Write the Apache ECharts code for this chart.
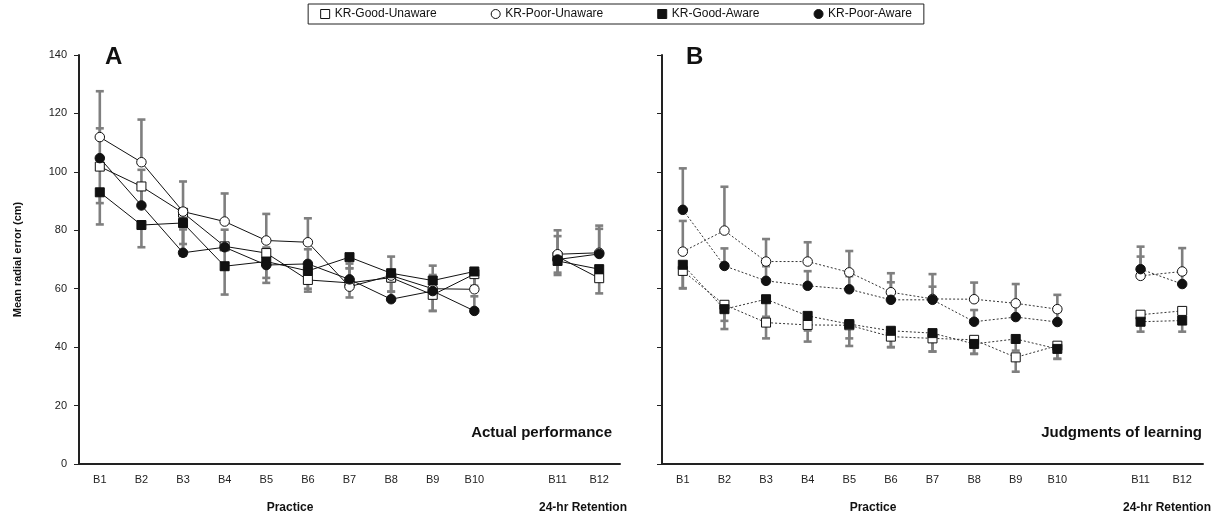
<!DOCTYPE html>
<html>
<head>
<meta charset="utf-8">
<script src="https://cdn.jsdelivr.net/npm/echarts@6/dist/echarts.min.js"></script>
<style>html,body{margin:0;padding:0;background:#fff;}#c{width:1232px;height:520px;}</style>
</head>
<body>
<div id="c"></div>
<script>
// ---------- data ----------
const blocks = ['B1','B2','B3','B4','B5','B6','B7','B8','B9','B10','B11','B12'];
const seriesNames = ['KR-Good-Unaware','KR-Poor-Unaware','KR-Good-Aware','KR-Poor-Aware'];
const yTicks = [0,20,40,60,80,100,120,140];

// Panel A: actual performance (mean radial error, cm)
const goodUnawareA = [101.8, 95.0, 86.0, 74.5, 72.2, 63.0, 62.0, 63.8, 57.9, 65.0, 71.0, 63.6];
const poorUnawareA = [111.9, 103.3, 86.4, 83.0, 76.5, 75.9, 60.7, 64.5, 60.0, 59.8, 71.8, 72.3];
const goodAwareA   = [93.0, 81.8, 82.5, 67.7, 69.3, 66.1, 70.8, 65.3, 62.8, 65.9, 69.5, 66.7];
const poorAwareA   = [104.7, 88.5, 72.3, 74.2, 68.1, 68.5, 63.2, 56.4, 59.2, 52.4, 70.0, 71.9];
// error bar lengths (Good groups drawn downward, Poor groups upward)
const goodUnawareAErr = [12.5, 6.0, 10.7, 8.0, 8.5, 4.0, 5.0, 4.8, 5.5, 4.0, 5.5, 5.2];
const poorUnawareAErr = [15.7, 14.6, 10.3, 9.6, 9.1, 8.2, 6.3, 6.5, 7.9, 5.0, 8.2, 9.3];
const goodAwareAErr   = [11.0, 7.6, 11.2, 9.7, 7.3, 6.1, 3.8, 6.3, 10.4, 6.0, 4.8, 4.0];
const poorAwareAErr   = [10.2, 12.2, 8.0, 6.0, 6.0, 5.0, 5.4, 6.0, 5.5, 5.0, 8.0, 8.6];

// Panel B: judgments of learning
const goodUnawareB = [66.1, 54.5, 48.4, 47.6, 47.5, 43.6, 43.0, 42.5, 36.5, 40.5, 51.1, 52.4];
const poorUnawareB = [72.7, 79.9, 69.3, 69.3, 65.6, 58.8, 56.5, 56.4, 55.0, 53.0, 64.4, 65.9];
const goodAwareB   = [68.2, 53.0, 56.4, 50.7, 47.9, 45.6, 44.8, 41.1, 42.8, 39.4, 48.7, 49.1];
const poorAwareB   = [87.0, 67.8, 62.7, 61.0, 59.8, 56.2, 56.2, 48.7, 50.3, 48.6, 66.7, 61.6];
const goodUnawareBErr = [6.0, 8.3, 5.4, 5.7, 4.5, 3.6, 4.5, 4.8, 4.9, 4.5, 3.5, 4.0];
const poorUnawareBErr = [10.5, 15.0, 7.7, 6.6, 7.3, 6.5, 8.5, 5.7, 6.6, 4.9, 10.0, 8.0];
const goodAwareBErr   = [8.0, 4.0, 6.0, 5.0, 7.5, 5.6, 6.3, 3.4, 4.0, 3.4, 3.4, 3.8];
const poorAwareBErr   = [14.2, 6.0, 5.0, 5.0, 4.5, 6.0, 4.5, 4.0, 4.0, 3.5, 4.3, 3.5];

// ---------- build ----------
// insert a blank slot between practice (B1-B10) and retention (B11-B12)
const cats = blocks.slice(0,10).concat([''], blocks.slice(10));
function withGap(arr){ return arr.slice(0,10).concat([null], arr.slice(10)); }
function idx(i){ return i < 10 ? i : i + 1; }

const markers = [
  {symbol:'rect',   fill:'#fff'},
  {symbol:'circle', fill:'#fff'},
  {symbol:'rect',   fill:'#111'},
  {symbol:'circle', fill:'#111'}
];
const dirs = [-1, 1, -1, 1];

function lineSeries(name, k, vals, g, dotted){
  return {
    name: name, type:'line', xAxisIndex:g, yAxisIndex:g,
    data: withGap(vals), connectNulls:false,
    symbol: markers[k].symbol, symbolSize: k % 2 === 0 ? 9 : 9.5,
    showAllSymbol:true,
    lineStyle:{color: dotted ? '#333' : '#111', width:1, type: dotted ? [2,2] : 'solid'},
    itemStyle:{color: markers[k].fill, borderColor:'#111', borderWidth:1, opacity:1},
    emphasis:{disabled:true}, z: 3 + k, animation:false
  };
}
function errSeries(name, k, vals, errs, g){
  const data = vals.map((v,i) => [idx(i), v, v + dirs[k]*errs[i]]);
  return {
    name: name, type:'custom', xAxisIndex:g, yAxisIndex:g, data: data, z:2, animation:false,
    silent:true,
    renderItem: function(params, api){
      const p = api.coord([api.value(0), api.value(1)]);
      const e = api.coord([api.value(0), api.value(2)]);
      const st = {stroke:'#7f7f7f', lineWidth:2.6};
      return {type:'group', children:[
        {type:'line', shape:{x1:p[0], y1:p[1], x2:e[0], y2:e[1]}, style:st},
        {type:'line', shape:{x1:e[0]-4, y1:e[1], x2:e[0]+4, y2:e[1]}, style:st}
      ]};
    }
  };
}

const panelA = [goodUnawareA, poorUnawareA, goodAwareA, poorAwareA];
const panelAErr = [goodUnawareAErr, poorUnawareAErr, goodAwareAErr, poorAwareAErr];
const panelB = [goodUnawareB, poorUnawareB, goodAwareB, poorAwareB];
const panelBErr = [goodUnawareBErr, poorUnawareBErr, goodAwareBErr, poorAwareBErr];

const series = [];
[panelA, panelB].forEach((panel, g) => {
  const errs = g === 0 ? panelAErr : panelBErr;
  panel.forEach((vals, k) => series.push(errSeries(seriesNames[k], k, vals, errs[k], g)));
  panel.forEach((vals, k) => series.push(lineSeries(seriesNames[k], k, vals, g, g === 1)));
});

const font = 'Liberation Sans, Arial, sans-serif';
function xAxis(g){
  return {
    type:'category', gridIndex:g, data:cats, boundaryGap:true,
    axisLine:{lineStyle:{color:'#222', width:2}},
    axisTick:{show:false},
    axisLabel:{color:'#222', fontSize:11, fontFamily:font, margin:10, interval:0}
  };
}
function yAxis(g){
  return {
    type:'value', gridIndex:g, min:yTicks[0], max:yTicks[yTicks.length-1], interval:20,
    splitLine:{show:false},
    axisLine:{show:true, lineStyle:{color:'#222', width:2}},
    axisTick:{show:true, length:5, lineStyle:{color:'#222', width:1}},
    axisLabel:{show: g === 0, color:'#222', fontSize:11, fontFamily:font, margin:12},
    name: g === 0 ? 'Mean radial error (cm)' : '',
    nameLocation:'middle', nameGap:56, nameRotate:90,
    nameTextStyle:{fontWeight:'bold', fontSize:11, color:'#111', fontFamily:font}
  };
}

const option = {
  backgroundColor:'#fff',
  animation:false,
  legend:{
    top:4, left:'center', orient:'horizontal',
    borderColor:'#222', borderWidth:1, padding:[4,12,4,12],
    itemGap:54, itemWidth:9, itemHeight:9,
    textStyle:{fontSize:12, color:'#111', fontFamily:font},
    selectedMode:false,
    data: seriesNames.map((n,k) => ({
      name:n, icon: markers[k].symbol,
      itemStyle:{color:markers[k].fill, borderColor:'#111', borderWidth:1}
    }))
  },
  grid:[
    {left:79, top:55, width:541, height:409},
    {left:662, top:55, width:541, height:409}
  ],
  xAxis:[xAxis(0), xAxis(1)],
  yAxis:[yAxis(0), yAxis(1)],
  series: series,
  graphic:[
    {type:'text', left:105, top:45, style:{text:'A', font:'bold 24px '+font, fill:'#111'}},
    {type:'text', left:686, top:45, style:{text:'B', font:'bold 24px '+font, fill:'#111'}},
    {type:'text', right:620, top:425, style:{text:'Actual performance', font:'bold 15px '+font, fill:'#111'}},
    {type:'text', right:30, top:425, style:{text:'Judgments of learning', font:'bold 15px '+font, fill:'#111'}},
    {type:'text', x:290, y:508, style:{text:'Practice', font:'bold 12px '+font, fill:'#111', align:'center', verticalAlign:'middle'}},
    {type:'text', x:583, y:508, style:{text:'24-hr Retention', font:'bold 12px '+font, fill:'#111', align:'center', verticalAlign:'middle'}},
    {type:'text', x:873, y:508, style:{text:'Practice', font:'bold 12px '+font, fill:'#111', align:'center', verticalAlign:'middle'}},
    {type:'text', x:1167, y:508, style:{text:'24-hr Retention', font:'bold 12px '+font, fill:'#111', align:'center', verticalAlign:'middle'}}
  ]
};

const chart = echarts.init(document.getElementById('c'), null, {renderer:'canvas'});
chart.setOption(option);
</script>
</body>
</html>
